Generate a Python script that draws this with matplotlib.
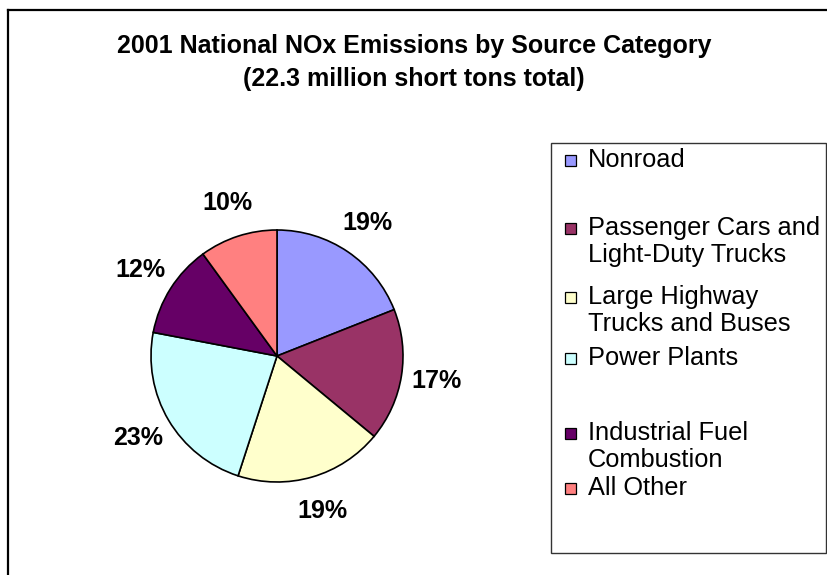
import matplotlib
matplotlib.use("Agg")
import matplotlib.pyplot as plt
from matplotlib.patches import Rectangle
from matplotlib.lines import Line2D

# Source categories and their share of 2001 national NOx emissions (%)
categories = [
    "Nonroad",
    "Passenger Cars and\nLight-Duty Trucks",
    "Large Highway\nTrucks and Buses",
    "Power Plants",
    "Industrial Fuel\nCombustion",
    "All Other",
]
shares = [19, 17, 19, 23, 12, 10]
colors = ["#9999FF", "#993366", "#FFFFCC", "#CCFFFF", "#660066", "#FF8080"]

title_lines = ["2001 National NOx Emissions by Source Category",
               "(22.3 million short tons total)"]

W, H = 828, 575
fig = plt.figure(figsize=(W / 100, H / 100), dpi=100)
fig.patch.set_facecolor("white")

# Overlay in pixel coordinates for frame, title and legend
ov = fig.add_axes([0, 0, 1, 1])
ov.set_xlim(0, W)
ov.set_ylim(H, 0)
ov.axis("off")

# Chart-area frame (left and top edges visible)
ov.add_line(Line2D([8, 8], [10, H + 5], color="black", lw=1.6))
ov.add_line(Line2D([8, W + 5], [10, 10], color="black", lw=1.6))

# Title, centred on the chart area
sans = ["Liberation Sans", "DejaVu Sans"]
ov.text(414, 46, title_lines[0], ha="center", va="center",
        fontsize=18, fontweight="bold", family=sans)
ov.text(414, 79, title_lines[1], ha="center", va="center",
        fontsize=18, fontweight="bold", family=sans)

# Pie
cx, cy, r = 277, 356, 126
pie_ax = fig.add_axes([(cx - r) / W, (H - cy - r) / H, 2 * r / W, 2 * r / H])
wedges, _, autotexts = pie_ax.pie(
    shares, colors=colors, startangle=90, counterclock=False,
    autopct="%1.0f%%", pctdistance=1.28,
    wedgeprops=dict(edgecolor="black", linewidth=1.2),
)
for t in autotexts:
    t.set_fontsize(18)
    t.set_fontweight("bold")
    t.set_family(sans)
pie_ax.set_xlim(-1, 1)
pie_ax.set_ylim(-1, 1)
pie_ax.set_aspect("equal")
pie_ax.axis("off")

# Legend box
ov.add_patch(Rectangle((551, 143), 826 - 551, 553 - 143, facecolor="white",
                       edgecolor="#333333", lw=1.0, zorder=1))
row_y = [160, 228, 297, 358, 433, 488]
line_step = 27
for label, col, y in zip(categories, colors, row_y):
    ov.add_patch(Rectangle((565, y - 5), 11, 11, facecolor=col,
                           edgecolor="black", lw=0.9, zorder=2))
    for i, line in enumerate(label.split("\n")):
        ov.text(588, y + i * line_step, line, ha="left", va="center",
                fontsize=18.3, family=sans, zorder=3)

fig.savefig("out.png", dpi=100, facecolor="white")
